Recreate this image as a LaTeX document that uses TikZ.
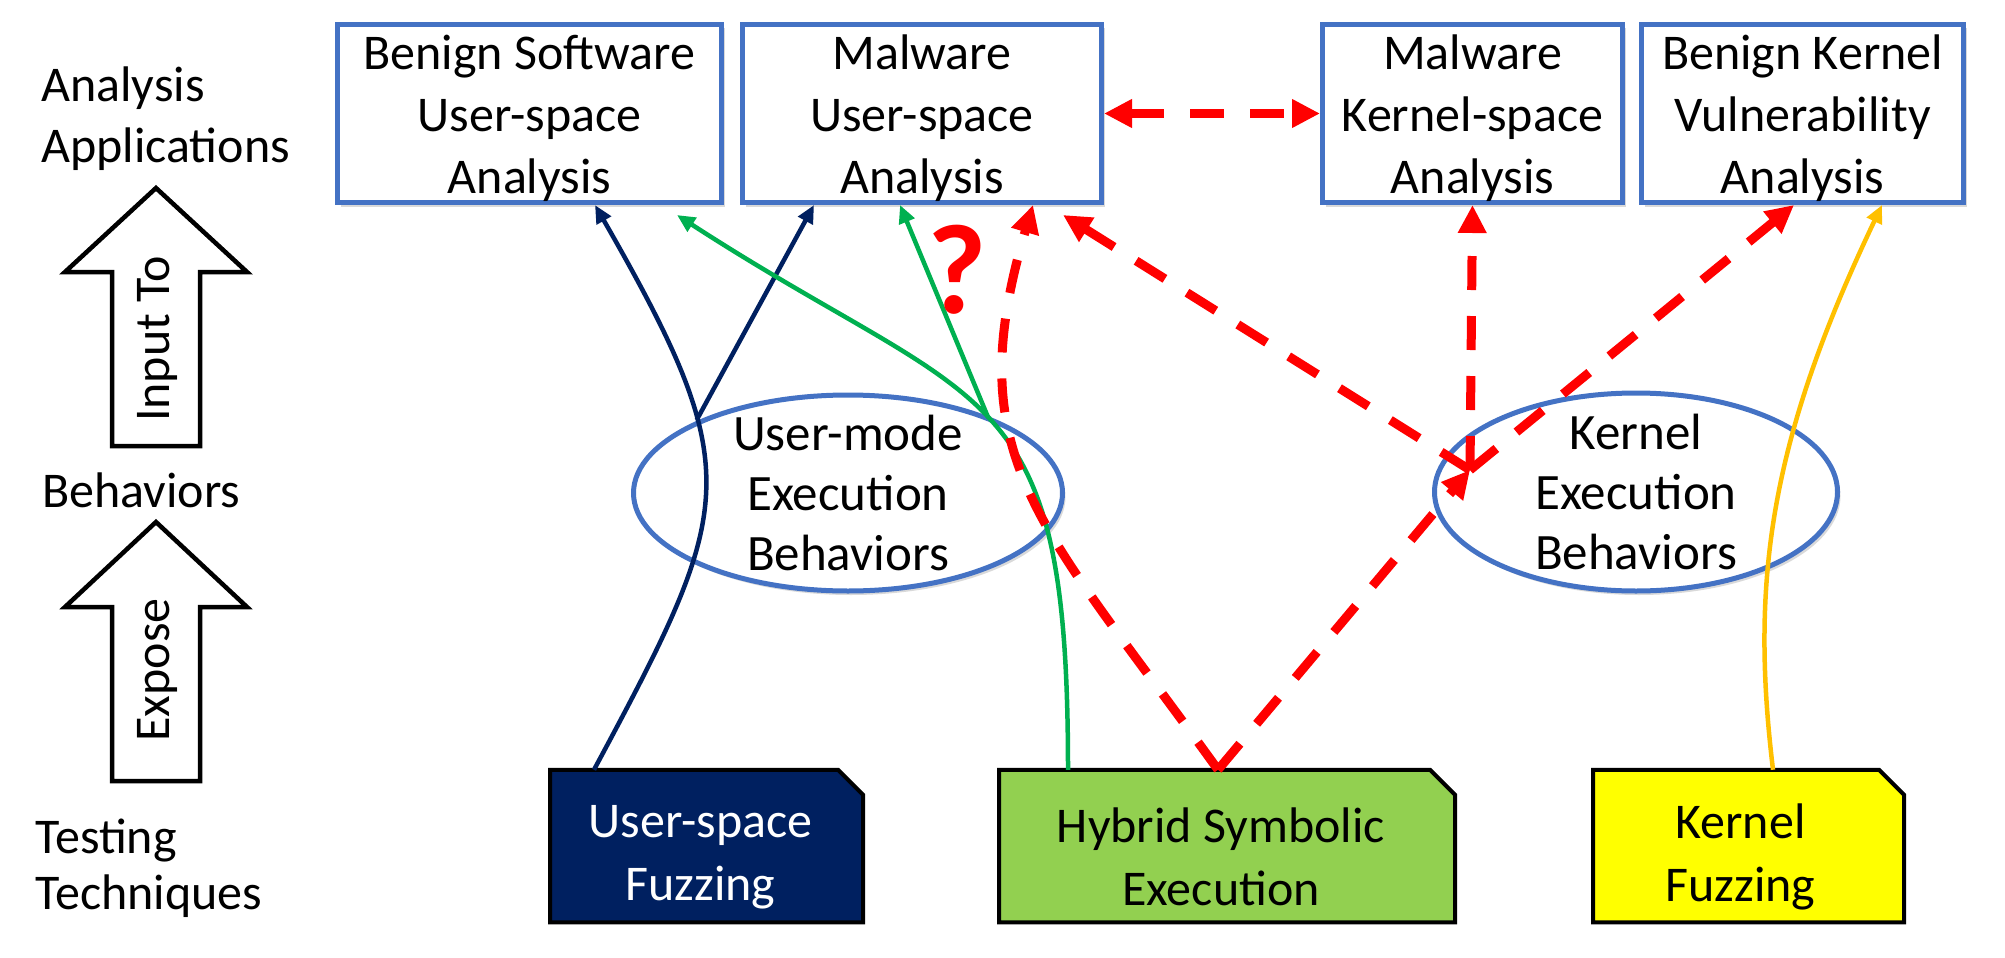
\documentclass[tikz,border=0pt]{standalone}
\usepackage{fontspec}
\setmainfont{Carlito}
\usetikzlibrary{arrows.meta,shapes.geometric,shadows,calc}
\definecolor{boxblue}{HTML}{4472C4}
\definecolor{navyc}{HTML}{002060}
\definecolor{greenc}{HTML}{00B050}
\definecolor{redc}{HTML}{FF0000}
\definecolor{orangec}{HTML}{FFC000}
\definecolor{limec}{HTML}{92D050}
\definecolor{yellowc}{HTML}{FFFF00}
\begin{document}
\begin{tikzpicture}[x=1pt,y=-1pt,
  every node/.style={font=\fontsize{50}{61}\selectfont, inner sep=0pt},
  softshadow/.style={drop shadow={shadow xshift=3pt, shadow yshift=-4pt, fill=black, opacity=0.15}},
  appbox/.style={draw=boxblue, line width=5pt, fill=white, minimum height=178pt, softshadow},
  apptext/.style={align=center, font=\fontsize{50}{62}\selectfont},
  behav/.style={ellipse, draw=boxblue, line width=5pt, fill=white, softshadow},
  behavtext/.style={align=center, font=\fontsize{51}{60}\selectfont},
  techbase/.style={minimum height=152.5pt, outer sep=0pt},
  techshape/.style={draw=black, line width=4pt, line join=miter},
  techtext/.style={align=center, font=\fontsize{50}{63}\selectfont},
  lbl/.style={anchor=base west},
  blockarrow/.style={draw=black, line width=4.5pt, fill=white, line join=miter},
  feed/.style={line width=4.5pt, -{Triangle[length=18pt,width=16pt]}},
  reddash/.style={draw=redc, line width=9pt, dash pattern=on 34pt off 26pt},
  redarrow/.style={reddash, -{Triangle[length=28pt,width=27pt]}},
  redboth/.style={reddash, {Triangle[length=28pt,width=27pt]}-{Triangle[length=28pt,width=27pt]}},
]
\useasboundingbox (0,0) rectangle (2005,958);

% analysis application boxes
\node[appbox, minimum width=384pt] (b1) at (529.5,113.5) {};
\node[apptext] (b1t) at ([yshift=-5pt]b1.center) {Benign Software\\User-space\\Analysis};
\node[appbox, minimum width=359pt] (b2) at (922,113.5) {};
\node[apptext] (b2t) at ([yshift=-5pt]b2.center) {Malware\\User-space\\Analysis};
\node[appbox, minimum width=300pt] (b3) at (1472.5,113.5) {};
\node[apptext] (b3t) at ([yshift=-5pt]b3.center) {Malware\\Kernel-space\\Analysis};
\node[appbox, minimum width=322pt] (b4) at (1802.5,113.5) {};
\node[apptext] (b4t) at ([yshift=-5pt]b4.center) {Benign Kernel\\Vulnerability\\Analysis};

% behaviour ellipses
\node[behav, minimum width=429pt, minimum height=196pt] (ue) at (848,493) {};
\node[behavtext] (uet) at (ue.center) {User-mode\\Execution\\Behaviors};
\node[behav, minimum width=403pt, minimum height=198pt] (ke) at (1636,492) {};
\node[behavtext] (ket) at (ke.center) {Kernel\\Execution\\Behaviors};

% testing technique boxes
\node[techbase, minimum width=313pt] (uf) at (706.5,846) {};
\filldraw[techshape, fill=navyc] (uf.north west) -- ([xshift=-25pt]uf.north east) -- ([yshift=-25pt]uf.north east) -- (uf.south east) -- (uf.south west) -- cycle;
\node[techtext, text=white] (uft) at ([xshift=-6pt,yshift=-11pt]uf.center) {User-space\\Fuzzing};

\node[techbase, minimum width=456pt] (hse) at (1227,846) {};
\filldraw[techshape, fill=limec] (hse.north west) -- ([xshift=-25pt]hse.north east) -- ([yshift=-25pt]hse.north east) -- (hse.south east) -- (hse.south west) -- cycle;
\node[techtext] (hset) at ([xshift=-6pt,yshift=-11pt]hse.center) {Hybrid Symbolic\\Execution};

\node[techbase, minimum width=311pt] (kf) at (1748.5,846) {};
\filldraw[techshape, fill=yellowc] (kf.north west) -- ([xshift=-25pt]kf.north east) -- ([yshift=-25pt]kf.north east) -- (kf.south east) -- (kf.south west) -- cycle;
\node[techtext] (kft) at ([xshift=-8pt,yshift=-11pt]kf.center) {Kernel\\Fuzzing};

% left labels and block arrows
\node[lbl] (l1) at (41,101) {Analysis};
\node[lbl] (l2) at (41,162) {Applications};
\node[lbl] (l3) at (42,507) {Behaviors};
\node[lbl] (l4) at (35,853) {Testing};
\node[lbl] (l5) at (35,909) {Techniques};

\draw[blockarrow] (156,188) -- (247,272) -- (200,272) -- (200,446) -- (112,446) -- (112,272) -- (65,272) -- cycle;
\node[rotate=90] (inputto) at (157,339) {Input To};
\draw[blockarrow] (156,522) -- (247,607) -- (200,607) -- (200,781) -- (112,781) -- (112,607) -- (65,607) -- cycle;
\node[rotate=90] (expose) at (157,670) {Expose};

% navy connectors
\draw[navyc, feed] ([xshift=-112.5pt]uf.north) .. controls (735.5,506) and (748.6,473) .. ([xshift=65.5pt]b1.south) coordinate[pos=0.65] (nsplit);
\draw[navyc, feed] (nsplit) -- ([xshift=-108pt]b2.south);

% green connectors
\draw[greenc, feed] ([xshift=-159pt]hse.north) .. controls (1068,371) and (985.7,415) .. ([xshift=147.5pt,yshift=-10pt]b1.south) coordinate[pos=0.5] (gsplit);
\draw[greenc, feed] (gsplit) -- ([xshift=-22pt]b2.south);

% orange connector
\draw[orangec, feed] ([xshift=24.5pt]kf.north) .. controls (1750,580) and (1770,440) .. ([xshift=79.5pt]b4.south);

% red dashed connectors
\coordinate (kp) at (1470,470);
\draw[redarrow] ([xshift=-9pt]hse.north) .. controls (1038,520) and (958,458) .. ([xshift=111pt]b2.south);
\draw[redarrow] ([xshift=-9pt]hse.north) -- (kp);
\draw[redarrow] (kp) -- ([xshift=141pt,yshift=-10pt]b2.south);
\draw[redarrow] (kp) -- (b3.south);
\draw[redarrow] (kp) -- ([xshift=-8.5pt]b4.south);
\draw[redboth] (b2.east) -- (b3.west);

\node[text=redc, font=\fontsize{128}{128}\bfseries\selectfont] (qm) at (957,270) {?};
\end{tikzpicture}
\end{document}
